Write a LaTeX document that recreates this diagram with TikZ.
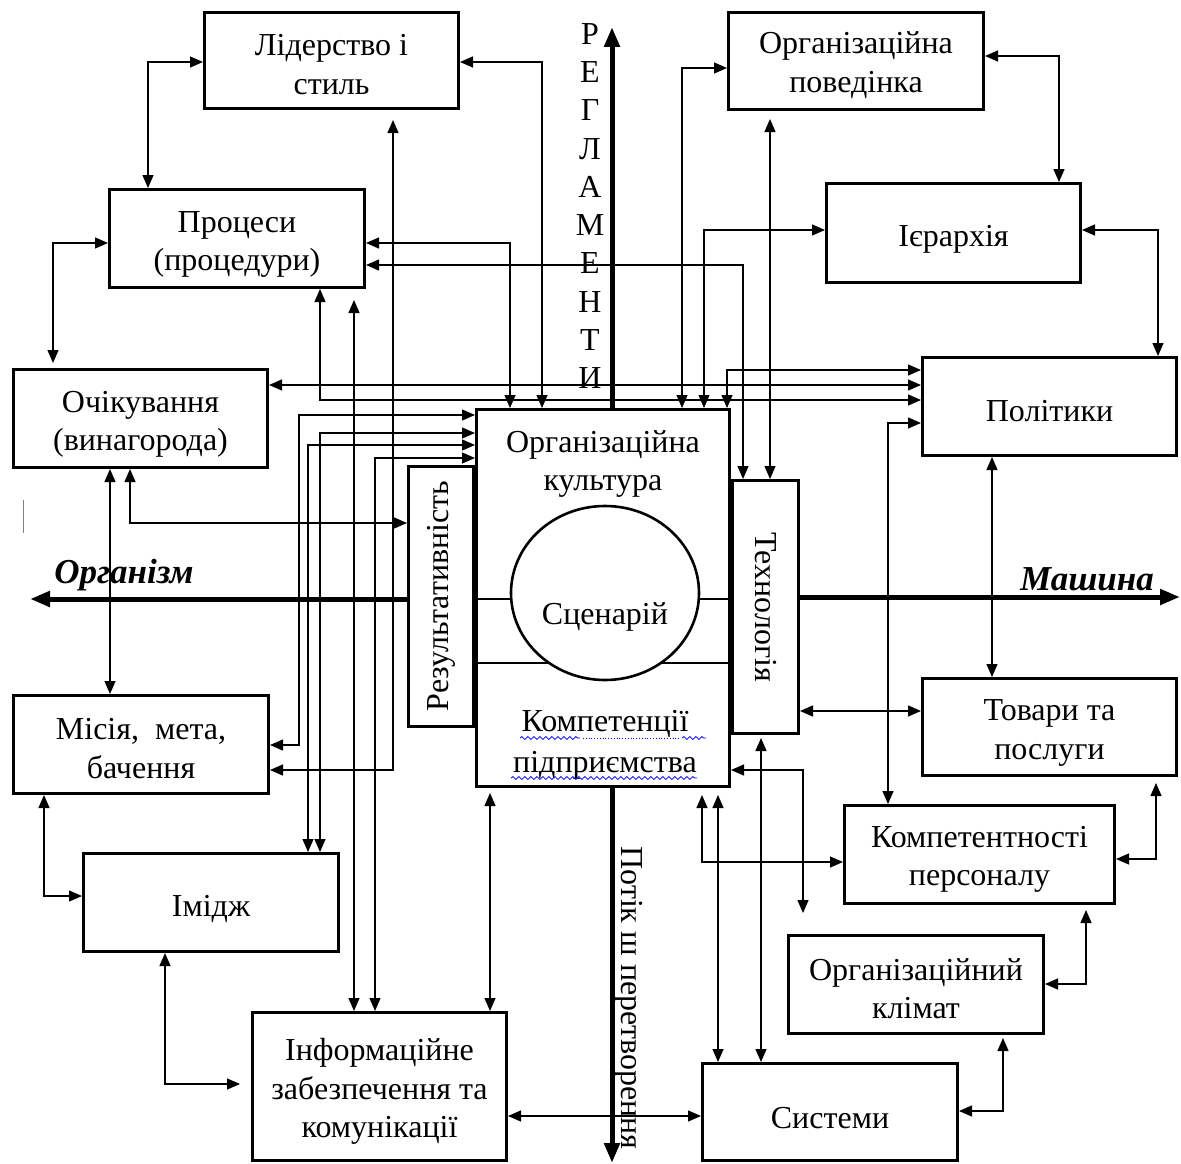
\documentclass[tikz,border=0pt]{standalone}
\usepackage{fontspec}
\setmainfont{Liberation Serif}
\usetikzlibrary{arrows.meta,decorations.pathmorphing}
\begin{document}
\begin{tikzpicture}[x=1pt,y=-1pt,
  >={Triangle[length=13pt,width=11pt]},
  box/.style={draw, line width=3.2pt, inner sep=0pt},
  sz/.style 2 args={minimum width=#1pt-3.2pt, minimum height=#2pt-3.2pt},
  txt/.style={inner sep=0pt, align=center, font=\fontsize{32}{38.3}\selectfont},
  dbl/.style={line width=1.3pt, <->},
  big/.style={line width=5pt, -{Triangle[length=20pt,width=15pt]}},
  wave/.style={blue, line width=0.8pt, decorate, decoration={snake, segment length=6pt, amplitude=1.4pt}}]
\useasboundingbox (0,0) rectangle (1181,1164);

% boxes
\node[box, sz={257}{99}]  (lid)    at (331.5,60.5)  {};
\node[box, sz={258}{101}] (proc)   at (237,238.5)   {};
\node[box, sz={257}{101}] (ochik)  at (140.5,418.5) {};
\node[box, sz={258}{101}] (misia)  at (141,744.5)   {};
\node[box, sz={258}{101}] (imidzh) at (211,902.5)   {};
\node[box, sz={257}{151}] (inform) at (379.5,1086.5){};
\node[box, sz={258}{100}] (orgpov) at (856,61)      {};
\node[box, sz={257}{102}] (ierar)  at (953.5,233)   {};
\node[box, sz={257}{101}] (polit)  at (1049.5,406.5){};
\node[box, sz={257}{100}] (tovary) at (1049.5,727)  {};
\node[box, sz={273}{101}] (kompers) at (979.5,854.5){};
\node[box, sz={258}{101}] (klimat) at (916,984.5)   {};
\node[box, sz={258}{100}] (syst)   at (830,1112)    {};

% box texts
\node[txt] (lidt)    at ([yshift=-4pt]lid.center)     {Лідерство і\\стиль};
\node[txt] (proct)   at ([yshift=-6pt]proc.center)    {Процеси\\(процедури)};
\node[txt] (ochikt)  at ([yshift=-6pt]ochik.center)   {Очікування\\(винагорода)};
\node[txt] (misiat)  at ([yshift=-4pt]misia.center)   {Місія,\ \ мета,\\бачення};
\node[txt] (imidzht) at ([yshift=-6pt]imidzh.center)  {Імідж};
\node[txt] (informt) at ([yshift=-5pt]inform.center)  {Інформаційне\\забезпечення та\\комунікації};
\node[txt] (orgpovt) at ([yshift=-4pt]orgpov.center)  {Організаційна\\поведінка};
\node[txt] (ierart)  at ([yshift=-6pt]ierar.center)   {Ієрархія};
\node[txt] (politt)  at ([yshift=-5pt]polit.center)   {Політики};
\node[txt] (tovaryt) at ([yshift=-6pt]tovary.center)  {Товари та\\послуги};
\node[txt] (komperst) at ([yshift=-5pt]kompers.center){Компетентності\\персоналу};
\node[txt] (klimatt) at ([yshift=-4pt]klimat.center)  {Організаційний\\клімат};
\node[txt] (systt)   at ([yshift=-6pt]syst.center)    {Системи};

% central block
\node[box, sz={256}{380}] (culture) at (603,598) {};
\draw[line width=2.6pt] (culture.west |- 0,599) -- (culture.east |- 0,599);
\draw[line width=2.6pt] (culture.west |- 0,663) -- (culture.east |- 0,663);
\draw[line width=2.6pt, fill=white] (605,593) ellipse [x radius=94, y radius=87];
\node[box, sz={68}{263}] (result) at (441,596.5) {};
\node[box, sz={69}{256}] (tech)   at (765.5,607)  {};
\node[txt, rotate=90]  (resultt) at (441,596) {Результативність};
\node[txt, rotate=-90] (techt)   at (766,607) {Технологія};
\node[txt] (cultt) at (603,464) {Організаційна\\культура};
\node[txt] (scen)  at (605,617) {Сценарій};
\node[txt, font=\fontsize{32}{41}\selectfont] (kompt) at (605,745) {Компетенції\\підприємства};
\draw[wave] (520,738) -- (580,738);
\draw[blue, line width=0.8pt, dotted] (583,738) -- (680,738);
\draw[wave] (682,738) -- (706,738);
\draw[wave] (511,778) -- (697,778);

% axes
\coordinate (regtop) at (612,27);
\coordinate (flowend) at (612,1163);
\coordinate (orgend) at (30,599);
\coordinate (mashend) at (1180,597);
\draw[big] (culture.north -| 612,0) -- (regtop);
\draw[big] (culture.south -| 612,0) -- (flowend);
\draw[big] (result.west |- 0,599) -- (orgend);
\draw[big] (tech.east |- 0,597) -- (mashend);
\node[txt, font=\fontsize{32}{38.3}\selectfont] (regl) at (590,206) {Р\\Е\\Г\\Л\\А\\М\\Е\\Н\\Т\\И};
\node[txt, rotate=-90] (flow) at (629,998) {Потік ш перетворення};
\node[txt, font=\fontsize{35}{40}\selectfont\bfseries\itshape] (orgl) at (124,575) {Організм};
\node[txt, font=\fontsize{35}{40}\selectfont\bfseries\itshape] (mashl) at (1087,579) {Машина};
\draw[gray, line width=1pt] (23,500) -- (23,533);

% connectors
\draw[dbl] (lid.west |- 0,62) -| (proc.north -| 148,0);
\draw[dbl] (lid.east |- 0,62) -| (culture.north -| 542,0);
\draw[dbl] (proc.east |- 0,243) -| (culture.north -| 510,0);
\draw[dbl] (proc.east |- 0,265) -| (tech.north -| 743,0);
\draw[dbl, shorten <=8pt] (orgpov.south -| 770,0) -- (tech.north -| 770,0);
\draw[dbl] (orgpov.west |- 0,68) -| (culture.north -| 682,0);
\draw[dbl] (ierar.west |- 0,230) -| (culture.north -| 704,0);
\draw[dbl] (orgpov.east |- 0,56) -| (ierar.north -| 1059,0);
\draw[dbl] (ierar.east |- 0,230) -| (polit.north -| 1158,0);
\draw[dbl] (polit.west |- 0,370) -| (culture.north -| 727,0);
\draw[dbl] (ochik.east |- 0,385) -- (polit.west |- 0,385);
\draw[dbl] (proc.south -| 320,0) |- (polit.west |- 0,400);
\draw[dbl] (kompers.north -| 888,0) |- (polit.west |- 0,423);
\draw[dbl] (tech.east |- 0,711) -- (tovary.west |- 0,711);
\draw[dbl] (polit.south -| 992,0) -- (tovary.north -| 992,0);
\draw[dbl, shorten <=3pt] (tech.south -| 761,0) -- (syst.north -| 761,0);
\draw[dbl, shorten <=7pt] (culture.south -| 718,0) -- (syst.north -| 718,0);
\draw[dbl, shorten <=7pt] (culture.south -| 702,0) |- (kompers.west |- 0,862);
\coordinate (kfree) at (803,913);
\draw[dbl] (culture.east |- 0,770) -| (kfree);
\draw[dbl, shorten >=6pt] (kompers.east |- 0,859) -| (tovary.south -| 1156,0);
\draw[dbl, shorten >=5pt] (klimat.east |- 0,984) -| (kompers.south -| 1086,0);
\draw[dbl, shorten >=3pt] (syst.east |- 0,1111) -| (klimat.south -| 1003,0);
\draw[dbl] (inform.east |- 0,1116) -- (syst.west |- 0,1116);
\draw[dbl, shorten <=5pt] (culture.south -| 490,0) -- (inform.north -| 490,0);
\draw[dbl] (misia.south -| 44,0) |- (imidzh.west |- 0,896);
\draw[dbl, shorten >=11pt] (imidzh.south -| 165,0) |- (inform.west |- 0,1084);
\draw[dbl, shorten >=5pt] (proc.west |- 0,243) -| (ochik.north -| 53,0);
\draw[dbl] (ochik.south -| 110,0) -- (misia.north -| 110,0);
\draw[dbl] (ochik.south -| 130,0) |- (result.west |- 0,523);
\draw[dbl, shorten <=10pt] (lid.south -| 393,0) |- (misia.east |- 0,770);
\draw[dbl, shorten <=11pt] (proc.south -| 354,0) -- (inform.north -| 354,0);
\draw[dbl] (culture.west |- 0,415) -- (299,415) |- (misia.east |- 0,745);
\draw[dbl] (culture.west |- 0,433) -| (imidzh.north -| 320,0);
\draw[dbl] (culture.west |- 0,445) -| (imidzh.north -| 308,0);
\draw[dbl] (culture.west |- 0,458) -| (inform.north -| 375,0);
\end{tikzpicture}
\end{document}
